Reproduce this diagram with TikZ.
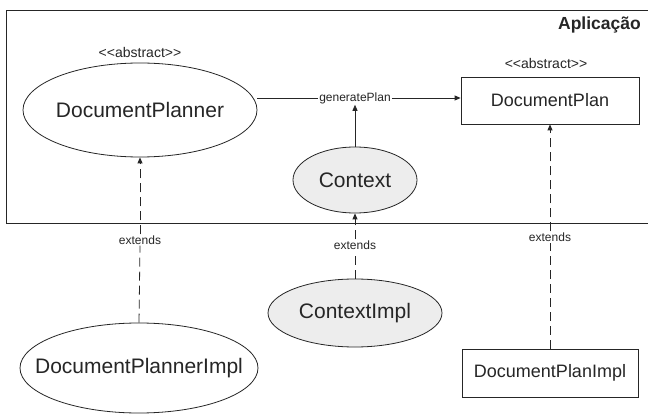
\documentclass[tikz,border=0pt]{standalone}
\usepackage{fontspec}
\setmainfont{Liberation Sans}
\usetikzlibrary{shapes.geometric,arrows.meta}
\definecolor{ink}{HTML}{262626}
\definecolor{cls}{HTML}{EDEDED}
% zero-width label so the ellipse keeps its given size
\newcommand{\cname}[1]{\makebox[0pt]{#1}}
\newcommand{\abstractst}{{<}{<}abstract{>}{>}}
\tikzset{
  classell/.style={ellipse, draw=ink, line width=0.8pt, inner sep=0pt, text=ink,
                   font=\fontsize{21}{25}\selectfont},
  classbox/.style={rectangle, draw=ink, line width=0.8pt, inner sep=0pt, text=ink,
                   font=\fontsize{18}{22}\selectfont},
  stereo/.style={text=ink, inner sep=0pt, font=\fontsize{14}{17}\selectfont},
  edgelbl/.style={fill=white, text=ink, inner sep=1pt, font=\fontsize{12}{14}\selectfont},
  tip/.style={-{Triangle[length=6pt,width=5pt]}},
  assoc/.style={draw=ink, line width=0.8pt},
  inherit/.style={draw=ink, line width=0.8pt, dash pattern=on 9pt off 5pt},
}
\begin{document}
\begin{tikzpicture}[x=1pt,y=-1pt]
\useasboundingbox (0,0) rectangle (648,414);
\fill[white] (0,0) rectangle (648,414);

% package frame
\draw[ink, line width=0.8pt] (6,10) rectangle (655,223);
\node[anchor=east, text=ink, inner sep=0pt, font=\fontsize{17.5}{20}\selectfont\bfseries] (pkg) at (641,25) {Aplicação};

% classes inside the package
\node[classell, minimum width=234pt, minimum height=94pt] (planner) at (140,110) {\cname{DocumentPlanner}};
\node[stereo] (st1) at (140,52) {\abstractst};
\node[classbox, minimum width=178pt, minimum height=47pt] (plan) at (550,100.5) {DocumentPlan};
\node[stereo] (st2) at (546,63) {\abstractst};
\node[classell, fill=cls, minimum width=124pt, minimum height=66pt] (ctx) at (355,180) {\cname{Context}};

% implementations
\node[classell, minimum width=238pt, minimum height=90pt] (plannerimpl) at (139,368) {\cname{DocumentPlannerImpl}};
\node[classell, fill=cls, minimum width=174pt, minimum height=68pt] (ctximpl) at (355,313) {\cname{ContextImpl}};
\node[classbox, minimum width=176pt, minimum height=48pt] (planimpl) at (550,373) {DocumentPlanImpl};

% generatePlan association
\node[edgelbl] (gp) at (355,98) {generatePlan};
\draw[assoc] (planner.east |- gp) -- (gp.west);
\draw[assoc, tip] (gp.east) -- (plan.west |- gp);
\draw[assoc, tip] (ctx.north) -- (gp.south);

% extends relations
\node[edgelbl] (ex1) at (140,240) {extends};
\node[edgelbl] (ex2) at (355,245) {extends};
\node[edgelbl] (ex3) at (550,237) {extends};
\draw[inherit] (plannerimpl.north) -- (ex1.south);
\draw[inherit, tip] (ex1.north) -- (planner.south);
\draw[inherit] (ctximpl.north) -- (ex2.south);
\draw[inherit, tip] (ex2.north) -- (ctx.south);
\draw[inherit] (planimpl.north) -- (ex3.south);
\draw[inherit, tip] (ex3.north) -- (plan.south);
\end{tikzpicture}
\end{document}
